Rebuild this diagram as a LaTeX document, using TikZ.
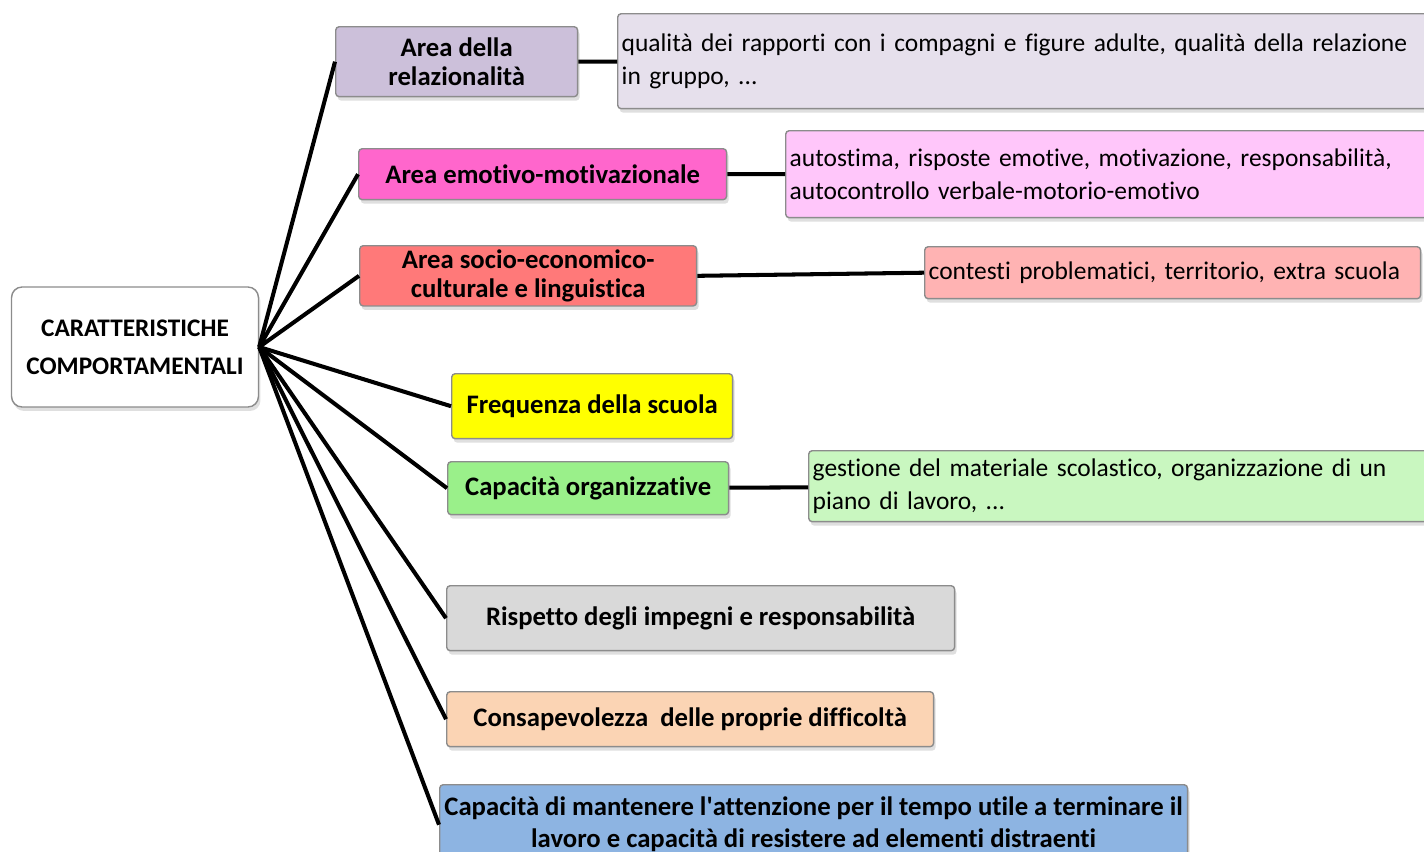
\documentclass[tikz,border=0pt]{standalone}
\usepackage{fontspec}
\setmainfont{Carlito}[Ligatures=NoCommon]
\usetikzlibrary{shadows}
\definecolor{lilla}{HTML}{CCC0DA}\definecolor{lillachiaro}{HTML}{E6E0EC}
\definecolor{magenta}{HTML}{FF66CC}\definecolor{rosachiaro}{HTML}{FFC6FA}
\definecolor{salmone}{HTML}{FF7979}\definecolor{salmonechiaro}{HTML}{FFB3B3}
\definecolor{giallo}{HTML}{FFFF00}
\definecolor{verde}{HTML}{9AF08A}\definecolor{verdechiaro}{HTML}{C9F7C0}
\definecolor{grigio}{HTML}{D9D9D9}\definecolor{pesca}{HTML}{FBD4B4}
\definecolor{azzurro}{HTML}{8DB4E2}\definecolor{bordo}{HTML}{8C8C8C}
\tikzset{
  box/.style={anchor=north west, draw=bordo, line width=0.8pt, rounded corners=2pt,
    drop shadow={shadow xshift=0.04cm, shadow yshift=-0.08cm, opacity=0.25},
    font=\bfseries\fontsize{15.2}{16.5}\selectfont, align=center, inner sep=0.08cm},
  descr/.style={box, font=\fontsize{14.5}{18.8}\selectfont, align=left},
  ramo/.style={line width=2.3pt, black}
}
\begin{document}
\begin{tikzpicture}[x=0.02cm, y=-0.02cm]
    \useasboundingbox (0,0) rectangle (1424,852);
    \clip (0,0) rectangle (1424,852);
    \node[box, anchor=center, fill=white, rounded corners=6pt, minimum width=4.94cm, minimum height=2.4cm,
      font=\bfseries\fontsize{14.4}{21.6}\selectfont] (root) at (135,347) {CARATTERISTICHE\\COMPORTAMENTALI};
    %% aree
    \node[box, fill=lilla, minimum width=4.84cm, minimum height=1.4cm] (a1) at (335,26) {Area della\\relazionalità};
    \node[box, fill=magenta, minimum width=7.36cm, minimum height=1.02cm] (a2) at (358,148) {Area emotivo-motivazionale};
    \node[box, fill=salmone, minimum width=6.74cm, minimum height=1.18cm] (a3) at (359,245) {Area socio-economico-\\culturale e linguistica};
    \node[box, fill=giallo, minimum width=5.62cm, minimum height=1.3cm] (a4) at (451,373) {Frequenza della scuola};
    \node[box, fill=verde, minimum width=5.62cm, minimum height=1.06cm] (a5) at (447,461) {Capacità organizzative};
    \node[box, fill=grigio, minimum width=10.16cm, minimum height=1.3cm] (a6) at (446,585) {Rispetto degli impegni e responsabilità};
    \node[box, fill=pesca, minimum width=9.74cm, minimum height=1.1cm] (a7) at (446,691) {Consapevolezza\ \ delle proprie difficoltà};
    \node[box, fill=azzurro, minimum width=14.96cm, minimum height=1.6cm, font=\bfseries\fontsize{15.2}{18.2}\selectfont] (a8) at (439,784)
      {Capacità di mantenere l\textquotesingle attenzione per il tempo utile a terminare il\\lavoro e capacità di resistere ad elementi distraenti};
    %% descrizioni
    \node[descr, fill=lillachiaro, text width=16.44cm, minimum height=1.9cm] (d1) at (617,13)
      {qualità dei rapporti con i compagni e figure adulte, qualità della relazione\\in gruppo, ...};
    \node[descr, fill=rosachiaro, text width=13.04cm, minimum height=1.74cm] (d2) at (785,130)
      {autostima, risposte emotive, motivazione, responsabilità,\\autocontrollo verbale-motorio-emotivo};
    \node[descr, fill=salmonechiaro, text width=9.76cm, minimum height=1.04cm] (d3) at (924,246)
      {contesti problematici, territorio, extra scuola};
    \node[descr, fill=verdechiaro, text width=12.44cm, minimum height=1.42cm] (d5) at (808,450)
      {gestione del materiale scolastico, organizzazione di un\\piano di lavoro, ...};
    % rami
    \foreach \a in {a1,a2,a3,a4,a5,a6,a7,a8} \draw[ramo] (root.east) -- (\a.west);
    \draw[ramo] (a1) -- (d1); \draw[ramo] (a2) -- (d2);
    \draw[ramo] (a3.east) -- (d3.west); \draw[ramo] (a5) -- (d5);
\end{tikzpicture}
\end{document}
